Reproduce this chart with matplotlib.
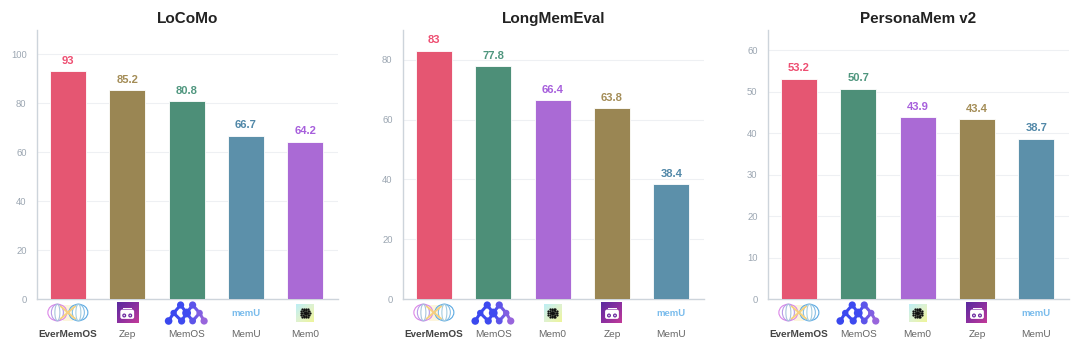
# Three benchmark panels, each bar has a small drawn logo under the axis
import numpy as np
import matplotlib
matplotlib.use('Agg')
import matplotlib.pyplot as plt
from matplotlib.colors import LinearSegmentedColormap
from matplotlib.patches import Circle, Ellipse, FancyBboxPatch, Rectangle

plt.rcParams['font.family'] = ['Liberation Sans', 'DejaVu Sans']
plt.rcParams['text.hinting'] = 'no_autohint'

# ---------- data ----------
titles = ['LoCoMo', 'LongMemEval', 'PersonaMem v2']

locomo_names = ['EverMemOS', 'Zep', 'MemOS', 'MemU', 'Mem0']
locomo_values = [93, 85.2, 80.8, 66.7, 64.2]
locomo_ticks = [0, 20, 40, 60, 80, 100]

longmem_names = ['EverMemOS', 'MemOS', 'Mem0', 'Zep', 'MemU']
longmem_values = [83, 77.8, 66.4, 63.8, 38.4]
longmem_ticks = [0, 20, 40, 60, 80]

persona_names = ['EverMemOS', 'MemOS', 'Mem0', 'Zep', 'MemU']
persona_values = [53.2, 50.7, 43.9, 43.4, 38.7]
persona_ticks = [0, 10, 20, 30, 40, 50, 60]

y_tops = [110, 90, 65]

# ---------- styles ----------
bar_colors = {'EverMemOS': '#e55672', 'Zep': '#9a8653', 'MemOS': '#4d8f78',
              'MemU': '#5c90aa', 'Mem0': '#aa6ad5'}
text_colors = {'EverMemOS': '#ee4f72', 'Zep': '#a48d57', 'MemOS': '#4f967e',
               'MemU': '#5188a8', 'Mem0': '#a75fdc'}
W, H = 1080, 350
panel_left = [37, 403, 768]
panel_width = 301
panel_top, panel_bottom = 29.7, 299.2

fig = plt.figure(figsize=(W / 100, H / 100), dpi=100, facecolor='white')

# overlay in pixel coordinates, used for the logos only
over = fig.add_axes([0, 0, 1, 1], zorder=5)
over.patch.set_alpha(0)
over.axis('off')


def gradient(x0, y0, size, c0, c1, c2=None):
    colors = [c0, c1] if c2 is None else [c0, c1, c2]
    cmap = LinearSegmentedColormap.from_list('g', colors)
    u, v = np.meshgrid(np.linspace(0, 1, 40), np.linspace(0, 1, 40))
    over.imshow((u + v) / 2, extent=[x0, x0 + size, y0 + size, y0], cmap=cmap,
                aspect='auto', zorder=1, interpolation='bilinear')


def logo_evermem(cx, cy):
    over.add_patch(Rectangle((cx - 5, cy - 8), 10, 16, fc='#fdf5dc', ec='none', zorder=1.5))
    for w, col in [(19, '#dc86e8'), (12, '#b99ae8'), (5, '#a9c4dc')]:
        over.add_patch(Ellipse((cx - 10.5, cy), w, 16.5, fill=False, ec=col, lw=0.8, zorder=2))
    for w, col in [(19, '#5ba9e2'), (12, '#86bfe6'), (5, '#a5cde0')]:
        over.add_patch(Ellipse((cx + 10.5, cy), w, 16.5, fill=False, ec=col, lw=0.8, zorder=2))
    over.plot([cx - 7, cx + 7], [cy - 6, cy + 6], color='#f7d17c', lw=1.3, zorder=3)
    over.plot([cx - 7, cx + 7], [cy + 6, cy - 6], color='#f7d17c', lw=1.3, zorder=3)


def logo_zep(cx, cy):
    gradient(cx - 10.5, cy - 10.5, 21, '#5a2a9e', '#8a2fa0', '#c23a98')
    over.add_patch(FancyBboxPatch((cx - 6.5, cy - 3), 13, 8.5, boxstyle='round,pad=0.4,rounding_size=2',
                                  fc='white', ec='none', zorder=3))
    over.plot([cx - 4, cx + 4], [cy - 5.5, cy - 5.5], color='white', lw=0.7, zorder=3)
    for dx in (-3, 3):
        over.add_patch(Circle((cx + dx, cy + 2.5), 2.0, fc='#6a2a9e', ec='none', zorder=4))
        over.add_patch(Circle((cx + dx, cy + 2.5), 0.8, fc='#e8d8f0', ec='none', zorder=5))


def logo_memos(cx, cy):
    nodes = [(-6, -8), (6, -8), (-13, 0), (0, 0), (13, 0),
             (-18, 8), (-5, 8), (6, 8), (17.5, 8)]
    sizes = [3.6, 3.6, 3.2, 4.4, 3.2, 3.8, 3.6, 3.4, 3.6]
    links = [(0, 2), (0, 3), (1, 3), (1, 4), (2, 5), (2, 6), (3, 6), (3, 7), (4, 7), (4, 8)]
    cmap = LinearSegmentedColormap.from_list('m', ['#3a48ee', '#3f4bf0', '#9a66dc'])
    for a, b in links:
        xa, ya = nodes[a]
        xb, yb = nodes[b]
        t = ((xa + xb) / 2 + 18) / 36
        over.plot([cx + xa, cx + xb], [cy + ya, cy + yb], color=cmap(t), lw=2.2, zorder=2,
                  solid_capstyle='round')
    for (x, y), s in zip(nodes, sizes):
        over.add_patch(Circle((cx + x, cy + y), s, fc=cmap((x + 18) / 36), ec='none', zorder=3))


def logo_memu(cx, cy):
    over.text(cx, cy + 2.5, 'memU', ha='center', va='baseline', fontsize=6.8, fontweight='bold',
              color='#78bbec', zorder=3)


def logo_mem0(cx, cy):
    gradient(cx - 9, cy - 9, 18, '#bdeef5', '#dff2d0', '#eef59a')
    for r, n in [(1.5, 6), (3, 10), (4.6, 14)]:
        t = np.linspace(0, 2 * np.pi, n, endpoint=False)
        over.scatter(cx + r * np.cos(t), cy + r * np.sin(t), s=2.6, color='#111111',
                     linewidths=0, zorder=3)
    over.add_patch(Circle((cx, cy), 1.2, fc='#111111', ec='none', zorder=3))


logo_funcs = {'EverMemOS': (logo_evermem, 312.5), 'Zep': (logo_zep, 313), 'MemOS': (logo_memos, 313),
              'MemU': (logo_memu, 313), 'Mem0': (logo_mem0, 313)}

panels = [(locomo_names, locomo_values, locomo_ticks),
          (longmem_names, longmem_values, longmem_ticks),
          (persona_names, persona_values, persona_ticks)]

for i, (names, values, ticks) in enumerate(panels):
    ax = fig.add_axes([panel_left[i] / W, 1 - panel_bottom / H,
                       panel_width / W, (panel_bottom - panel_top) / H])
    x = np.arange(len(names))
    ax.bar(x, values, width=0.61, color=[bar_colors[n] for n in names],
           edgecolor='white', linewidth=0.6, zorder=3)
    ax.set_xlim(-0.52, 4.55)
    ax.set_ylim(0, y_tops[i])
    ax.set_yticks(ticks)
    ax.tick_params(axis='y', length=0, labelsize=6.8, labelcolor='#98a3af', pad=7.5)
    ax.set_xticks(x)
    ax.set_xticklabels([])
    ax.tick_params(axis='x', length=0)
    ax.grid(axis='y', color='#eef0f3', lw=0.8, zorder=0)
    ax.set_axisbelow(True)
    for side in ('top', 'right'):
        ax.spines[side].set_visible(False)
    for side in ('left', 'bottom'):
        ax.spines[side].set_color('#cdd4db')
        ax.spines[side].set_linewidth(1.0)
    ax.set_title(titles[i], fontsize=11, fontweight='bold', color='#222222', pad=5)

    for k, (n, v) in enumerate(zip(names, values)):
        ax.annotate(f'{v:g}', (k, v), xytext=(0, 4), textcoords='offset points', ha='center',
                    va='bottom', fontsize=8, fontweight='bold', color=text_colors[n])
        px = panel_left[i] + (k + 0.52) / 5.07 * panel_width
        func, py = logo_funcs[n]
        func(px, py)
        over.text(px, 337, n, ha='center', va='baseline', fontsize=7.2,
                  fontweight='bold' if n == 'EverMemOS' else 'normal',
                  color='#444444' if n == 'EverMemOS' else '#666666')

over.set_xlim(0, W)
over.set_ylim(H, 0)

fig.savefig('out.png', dpi=100, facecolor='white')
